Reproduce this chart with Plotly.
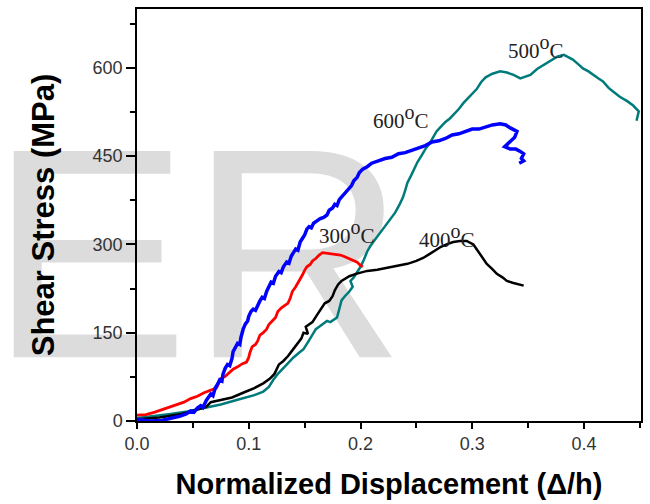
import plotly.graph_objects as go

# ---- data (x = normalized displacement, y = shear stress MPa) ----
blue_x = [0.000, 0.012, 0.022, 0.030, 0.038, 0.044, 0.048, 0.051, 0.054, 0.057, 0.059, 0.062, 0.064, 0.066,
          0.068, 0.070, 0.072, 0.074, 0.076, 0.077, 0.079, 0.081, 0.083, 0.085, 0.086, 0.088, 0.090, 0.092,
          0.093, 0.095, 0.097, 0.099, 0.100, 0.102, 0.104, 0.106, 0.108, 0.110, 0.112, 0.114, 0.116, 0.118,
          0.120, 0.122, 0.124, 0.127, 0.129, 0.131, 0.134, 0.136, 0.138, 0.140, 0.142, 0.144, 0.146, 0.148,
          0.150, 0.152, 0.154, 0.156, 0.158, 0.161, 0.164, 0.167, 0.170, 0.172, 0.175, 0.177, 0.179, 0.181,
          0.184, 0.187, 0.189, 0.192, 0.194, 0.197, 0.199, 0.202, 0.206, 0.210, 0.216, 0.222, 0.228, 0.234,
          0.240, 0.246, 0.252, 0.258, 0.264, 0.270, 0.276, 0.282, 0.288, 0.294, 0.300, 0.306, 0.312, 0.318,
          0.325, 0.330, 0.334, 0.340, 0.338, 0.333, 0.329, 0.334, 0.339, 0.343, 0.346, 0.344, 0.346, 0.342]
blue_y = [3, 0, 1, 4, 8, 12, 17, 15, 22, 26, 23, 35, 40, 46,
          43, 56, 62, 70, 68, 80, 90, 96, 94, 106, 118, 126, 132, 130,
          142, 156, 165, 170, 178, 186, 190, 188, 198, 204, 210, 208, 220, 228,
          236, 234, 246, 254, 252, 262, 270, 268, 280, 286, 292, 290, 304, 310,
          316, 326, 330, 328, 336, 340, 344, 346, 350, 358, 362, 368, 366, 376,
          382, 388, 394, 400, 408, 414, 422, 428, 432, 438, 442, 446, 448, 454,
          456, 460, 464, 468, 474, 476, 480, 486, 488, 492, 496, 496, 500, 503,
          505, 503, 498, 492, 482, 474, 466, 462, 462, 458, 454, 446, 442, 438]

red_x = [0.000, 0.008, 0.016, 0.024, 0.030, 0.036, 0.042, 0.048, 0.054, 0.060, 0.066, 0.071, 0.073, 0.075,
         0.079, 0.083, 0.086, 0.090, 0.094, 0.098, 0.100, 0.101, 0.103, 0.106, 0.108, 0.110, 0.113, 0.116,
         0.118, 0.121, 0.124, 0.126, 0.129, 0.132, 0.135, 0.137, 0.139, 0.142, 0.144, 0.146, 0.148, 0.150,
         0.152, 0.155, 0.157, 0.160, 0.163, 0.166, 0.170, 0.174, 0.178, 0.182, 0.186, 0.190, 0.194, 0.197,
         0.199, 0.202]
red_y = [10, 11, 15, 20, 24, 28, 32, 38, 42, 48, 52, 56, 64, 72,
         76, 82, 88, 92, 97, 100, 108, 116, 126, 130, 136, 146, 150, 156,
         164, 170, 176, 186, 192, 196, 200, 208, 220, 228, 234, 240, 248, 256,
         262, 266, 272, 276, 282, 286, 285, 284, 284, 282, 279, 276, 273, 270,
         266, 262]

black_x = [0.000, 0.020, 0.040, 0.055, 0.062, 0.066, 0.075, 0.085, 0.095, 0.105, 0.113, 0.119, 0.123, 0.127,
           0.131, 0.135, 0.139, 0.143, 0.147, 0.149, 0.153, 0.151, 0.157, 0.161, 0.165, 0.168, 0.172, 0.175,
           0.177, 0.180, 0.183, 0.186, 0.190, 0.196, 0.206, 0.215, 0.224, 0.233, 0.242, 0.250, 0.256, 0.262,
           0.267, 0.272, 0.277, 0.283, 0.289, 0.295, 0.301, 0.304, 0.307, 0.310, 0.313, 0.318, 0.322, 0.327,
           0.331, 0.336, 0.341, 0.346]
black_y = [3, 6, 12, 20, 24, 32, 36, 40, 48, 56, 64, 72, 80, 96,
           102, 110, 120, 130, 140, 150, 148, 160, 168, 180, 192, 200, 204, 212,
           222, 232, 238, 242, 246, 250, 255, 257, 260, 263, 267, 272, 277, 284,
           290, 296, 300, 304, 306, 306, 300, 292, 283, 275, 267, 258, 250, 244,
           238, 235, 232, 230]

teal_x = [0.000, 0.015, 0.030, 0.045, 0.060, 0.075, 0.090, 0.105, 0.113, 0.118, 0.122, 0.126, 0.131, 0.136,
          0.140, 0.145, 0.149, 0.153, 0.155, 0.157, 0.160, 0.163, 0.166, 0.170, 0.173, 0.176, 0.179, 0.181,
          0.183, 0.186, 0.190, 0.193, 0.191, 0.194, 0.197, 0.200, 0.203, 0.206, 0.209, 0.213, 0.218, 0.222,
          0.227, 0.231, 0.235, 0.238, 0.240, 0.242, 0.245, 0.248, 0.251, 0.255, 0.258, 0.262, 0.265, 0.268,
          0.272, 0.276, 0.280, 0.284, 0.288, 0.292, 0.296, 0.300, 0.304, 0.308, 0.312, 0.318, 0.325, 0.331,
          0.337, 0.343, 0.348, 0.352, 0.358, 0.364, 0.370, 0.376, 0.382, 0.386, 0.390, 0.395, 0.399, 0.404,
          0.408, 0.413, 0.417, 0.422, 0.426, 0.432, 0.439, 0.444, 0.449, 0.447]
teal_y = [5, 8, 12, 16, 22, 28, 36, 44, 50, 58, 70, 80, 90, 100,
          108, 116, 122, 134, 140, 146, 156, 160, 164, 170, 168, 172, 176, 190,
          205, 212, 220, 228, 238, 244, 252, 262, 274, 288, 298, 308, 320, 330,
          342, 354, 368, 380, 392, 405, 416, 428, 440, 452, 462, 472, 482, 492,
          500, 508, 514, 522, 530, 540, 548, 556, 564, 576, 584, 590, 594, 592,
          588, 582, 586, 588, 598, 605, 611, 619, 622, 618, 614, 606, 599, 594,
          588, 582, 577, 566, 560, 551, 543, 536, 526, 510]

label_text = ["300", "400", "500", "600"]
label_x = [0.188, 0.277, 0.357, 0.236]
label_y = [321, 314, 636, 517]

x_ticks = [0.0, 0.1, 0.2, 0.3, 0.4]
y_ticks = [0, 150, 300, 450, 600]

fig = go.Figure()
fig.add_trace(go.Scatter(x=teal_x, y=teal_y, mode="lines", line=dict(color="#007b7b", width=2.5), name="500"))
fig.add_trace(go.Scatter(x=black_x, y=black_y, mode="lines", line=dict(color="#000000", width=2.5), name="400"))
fig.add_trace(go.Scatter(x=red_x, y=red_y, mode="lines", line=dict(color="#ff0000", width=2.8), name="300"))
fig.add_trace(go.Scatter(x=blue_x, y=blue_y, mode="lines", line=dict(color="#0000ff", width=3.5), name="600"))

for t, xx, yy in zip(label_text, label_x, label_y):
    fig.add_annotation(x=xx, y=yy, showarrow=False,
                       text=t + "<sup><span style='font-size:20px'>o</span></sup>C",
                       font=dict(family="Liberation Serif", size=21, color="#222222"))

# faint watermark behind the data
fig.add_shape(type="rect", xref="paper", yref="paper", x0=0.015, x1=0.225, y0=0.365, y1=0.585,
              line=dict(width=0), fillcolor="rgba(0,0,0,0)", layer="below",
              label=dict(text="ER", textposition="middle center",
                         font=dict(family="Liberation Sans", size=300, color="#dcdcdc")))

axis_common = dict(showline=True, linecolor="black", linewidth=1.5, mirror=True,
                   ticks="outside", tickcolor="black", showgrid=False, zeroline=False,
                   tickfont=dict(family="Liberation Sans", size=18, color="#333333"))

fig.update_xaxes(range=[0, 0.451], tickvals=x_ticks, ticktext=[f"{v:.1f}" for v in x_ticks],
                 ticklen=6, tickwidth=1.5,
                 minor=dict(dtick=0.05, ticks="outside", ticklen=5, tickcolor="black", tickwidth=1.5),
                 title=dict(text="<b>Normalized Displacement (\u0394/h)</b>",
                            font=dict(family="Liberation Sans", size=29, color="black"), standoff=20),
                 **axis_common)
fig.update_yaxes(range=[0, 700], tickvals=y_ticks, ticklen=9, tickwidth=1.5,
                 minor=dict(dtick=75, ticks="outside", ticklen=5, tickcolor="black", tickwidth=1.5),
                 title=dict(text="<b>Shear Stress (MPa)</b>",
                            font=dict(family="Liberation Sans", size=31, color="black"), standoff=29),
                 **axis_common)

fig.update_layout(width=650, height=504, margin=dict(l=137, r=9, t=7, b=83),
                  paper_bgcolor="white", plot_bgcolor="rgba(0,0,0,0)", showlegend=False)

fig.write_html("out.html")
